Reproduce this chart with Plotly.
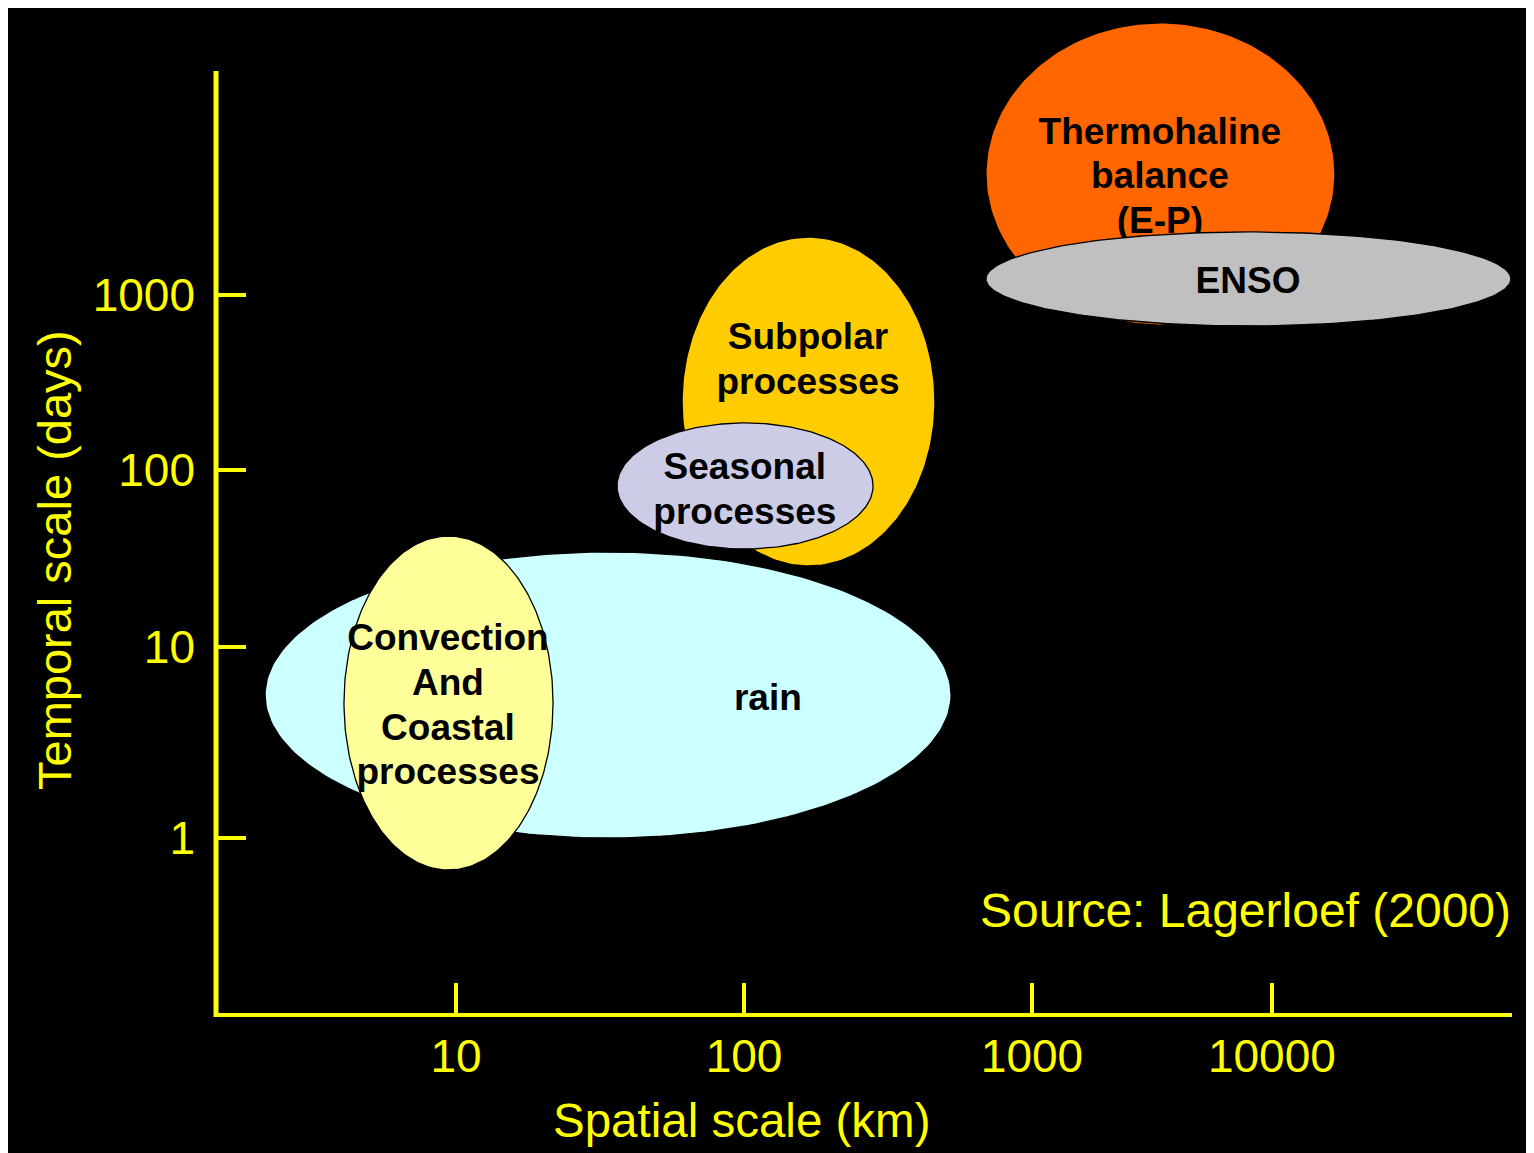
import numpy as np
import plotly.graph_objects as go

# ---------------- data ----------------
X_TICK_LABELS = ["10", "100", "1000", "10000"]
X_TICK_VALS = [1.0, 2.0, 3.0, 3.833]          # diagram axis positions (decades)
Y_TICK_LABELS = ["1", "10", "100", "1000"]
Y_TICK_VALS = [0.0, 1.079, 2.079, 3.067]

PROCESSES = ["rain", "Convection And Coastal processes", "Subpolar processes",
             "Seasonal processes", "Thermohaline balance (E-P)", "ENSO"]
LABEL_LINES = [["rain"], ["Convection", "And", "Coastal", "processes"],
               ["Subpolar", "processes"], ["Seasonal", "processes"],
               ["Thermohaline", "balance", "(E-P)"], ["ENSO"]]
# extents of each process on the spatial / temporal axes
X_MIN = [0.337, 0.611, 1.785, 1.559, 2.840, 2.840]
X_MAX = [2.719, 1.337, 2.663, 2.448, 4.052, 4.663]
Y_MIN = [0.000, -0.181, 1.537, 1.633, 2.898, 2.893]
Y_MAX = [1.616, 1.706, 3.395, 2.345, 4.605, 3.424]
LABEL_X = [2.083, 0.972, 2.222, 2.003, 3.444, 3.750]
LABEL_Y = [0.774, 0.734, 2.686, 1.952, 3.723, 3.130]

# ---------------- styles ----------------
FILL_COLORS = ["#CCFFFF", "#FFFF99", "#FFCC00", "#CCCCE6", "#FF6600", "#C0C0C0"]
YELLOW = "#FFFF00"
FONT = "Liberation Sans, Arial, sans-serif"
LINE_STEP = 0.2525   # label line spacing in y-axis units

W, H = 1534, 1153
OFF = 8                                   # page (body) margin of the html page
PLOT_L, PLOT_R, PLOT_T, PLOT_B = 216, 1512, 8, 1013   # on-screen pixels


def px_x(p):
    return (p - PLOT_L) / (PLOT_R - PLOT_L)


def px_y(p):
    return (PLOT_B - p) / (PLOT_B - PLOT_T)


fig = go.Figure()
t = np.linspace(0, 2 * np.pi, 241)
for i, name in enumerate(PROCESSES):
    cx = (X_MIN[i] + X_MAX[i]) / 2
    cy = (Y_MIN[i] + Y_MAX[i]) / 2
    a = (X_MAX[i] - X_MIN[i]) / 2
    b = (Y_MAX[i] - Y_MIN[i]) / 2
    fig.add_trace(go.Scatter(
        x=cx + a * np.cos(t), y=cy + b * np.sin(t), mode="lines",
        fill="toself", fillcolor=FILL_COLORS[i],
        line=dict(color="black", width=1.3), name=name,
        hoverinfo="name", showlegend=False))
    lines = LABEL_LINES[i]
    n = len(lines)
    ys = [LABEL_Y[i] + ((n - 1) / 2 - k) * LINE_STEP for k in range(n)]
    fig.add_trace(go.Scatter(
        x=[LABEL_X[i]] * n, y=ys, mode="text",
        text=["<b>%s</b>" % s for s in lines], textposition="middle center",
        textfont=dict(family=FONT, size=37, color="black"),
        hoverinfo="skip", showlegend=False, cliponaxis=False))

fig.update_layout(
    width=W, height=H,
    margin=dict(l=PLOT_L - OFF, r=W - (PLOT_R - OFF), t=PLOT_T - OFF,
                b=H - (PLOT_B - OFF), pad=0),
    paper_bgcolor="black", plot_bgcolor="black",
    showlegend=False,
    xaxis=dict(range=[(PLOT_L - 456) / 288 + 1, (PLOT_R - 456) / 288 + 1],
               showgrid=False, zeroline=False,
               showline=True, linecolor=YELLOW, linewidth=4,
               ticks="inside", ticklen=30, tickwidth=4, tickcolor=YELLOW,
               tickvals=X_TICK_VALS, ticktext=X_TICK_LABELS,
               tickfont=dict(family=FONT, size=46, color=YELLOW),
               fixedrange=True),
    yaxis=dict(range=[(838 - PLOT_B) / 177, (838 - PLOT_T) / 177],
               showgrid=False, zeroline=False, showline=False,
               ticks="inside", ticklen=30, tickwidth=4, tickcolor=YELLOW,
               tickvals=Y_TICK_VALS, ticktext=Y_TICK_LABELS,
               tickfont=dict(family=FONT, size=46, color=YELLOW),
               ticklabelstandoff=20,
               fixedrange=True),
    shapes=[
        # y axis line (shorter than the plot area)
        dict(type="line", xref="paper", yref="paper",
             x0=0, x1=0, y0=px_y(1017), y1=px_y(71),
             line=dict(color=YELLOW, width=5), layer="above"),
    ],
    annotations=[
        dict(text="Spatial scale (km)", xref="x", yref="paper",
             x=1.99, y=px_y(1120), xanchor="center", yanchor="middle",
             showarrow=False, font=dict(family=FONT, size=47.5, color=YELLOW)),
        dict(text="Temporal scale (days)", xref="paper", yref="paper",
             x=px_x(54), y=px_y(560), xanchor="center", yanchor="middle",
             textangle=-90, showarrow=False,
             font=dict(family=FONT, size=47, color=YELLOW)),
        dict(text="Source: Lagerloef (2000)", xref="paper", yref="paper",
             x=px_x(1513), y=px_y(910), xanchor="right", yanchor="middle",
             showarrow=False, font=dict(family=FONT, size=48, color=YELLOW)),
    ],
)

fig.write_html("out.html")
